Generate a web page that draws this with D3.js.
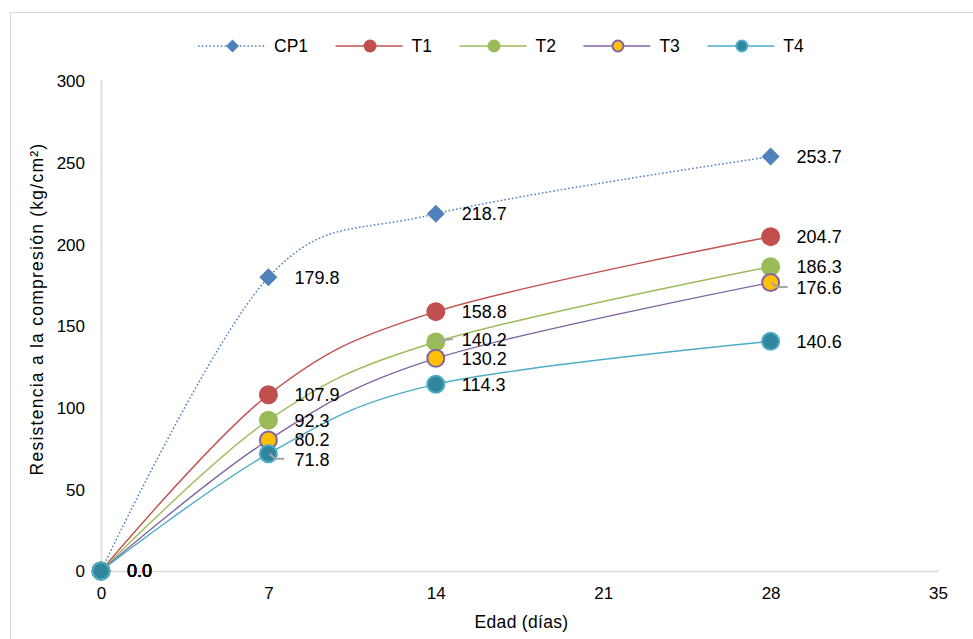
<!DOCTYPE html>
<html>
<head>
<meta charset="utf-8">
<script src="https://cdn.jsdelivr.net/npm/d3@7"></script>
<style>
  html, body { margin: 0; padding: 0; background: #fff; }
  svg { display: block; font-family: "Liberation Sans", Arial, sans-serif; }
</style>
</head>
<body>
<svg id="chart" width="973" height="639"></svg>
<script>
// Compressive strength vs. age
const days = [0, 7, 14, 28];
const seriesNames = ["CP1", "T1", "T2", "T3", "T4"];
const cp1 = [0, 179.8, 218.7, 253.7];
const t1 = [0, 107.9, 158.8, 204.7];
const t2 = [0, 92.3, 140.2, 186.3];
const t3 = [0, 80.2, 130.2, 176.6];
const t4 = [0, 71.8, 114.3, 140.6];
const xTicks = [0, 7, 14, 21, 28, 35];
const yTicks = [0, 50, 100, 150, 200, 250, 300];
const xTitle = "Edad (días)";
const yTitle = "Resistencia a la compresión (kg/cm²)";

const values = [cp1, t1, t2, t3, t4];

const styles = [
  { line: "#4f81bd", dash: "1.6,2.2", shape: "diamond", fill: "#4f81bd", stroke: "none", sw: 0 },
  { line: "#c0504d", dash: null, shape: "circle", fill: "#c0504d", stroke: "none", sw: 0 },
  { line: "#9bbb59", dash: null, shape: "circle", fill: "#9bbb59", stroke: "none", sw: 0 },
  { line: "#8064a2", dash: null, shape: "circle", fill: "#ffc000", stroke: "#8064a2", sw: 2 },
  { line: "#4bacc6", dash: null, shape: "circle", fill: "#31859c", stroke: "#4bacc6", sw: 2 }
];

// Hand-placed label nudges (series index, point index) -> [dy, leader points relative to marker]
const labelNudge = {
  "2-2": { dy: -2.5, leader: [[2, -1], [17, -3]] },
  "3-3": { dy: 5, leader: [[1, 0], [6, 4.5], [17, 4.5]] },
  "4-1": { dy: 6, leader: [[1, 0], [7, 5], [16, 5]] }
};

const svg = d3.select("#chart");
const margin = { left: 101, right: 35, top: 81, bottom: 68 };
const W = 973, H = 639;

const x = d3.scaleLinear().domain([0, 35]).range([margin.left, W - margin.right]);
const y = d3.scaleLinear().domain([0, 300]).range([H - margin.bottom, margin.top]);

// outer frame
svg.append("rect")
  .attr("x", 10.5).attr("y", 12.5)
  .attr("width", 1000).attr("height", 700)
  .attr("fill", "none").attr("stroke", "#d9d9d9").attr("stroke-width", 1);

// axes
const gx = svg.append("g").attr("transform", `translate(0,${y(0)})`)
  .call(d3.axisBottom(x).tickValues(xTicks).tickSize(0).tickPadding(16).tickFormat(d3.format("d")));
const gy = svg.append("g").attr("transform", `translate(${x(0)},0)`)
  .call(d3.axisLeft(y).tickValues(yTicks).tickSize(0).tickPadding(16).tickFormat(d3.format("d")));
[gx, gy].forEach(g => {
  g.select(".domain").attr("stroke", "#d9d9d9").attr("stroke-width", 1.6);
  g.selectAll("text").attr("font-size", 17).attr("fill", "#000")
    .attr("font-family", "'Liberation Sans', Arial, sans-serif");
});
gy.select(".domain").attr("d", `M0.5,${y(0)}V${y(300) - 1}`);
gy.selectAll("text").attr("dy", "0.34em");
gx.selectAll("text").attr("dy", "0.7em");

// axis titles
svg.append("text")
  .attr("x", (x(0) + x(35)) / 2 + 2).attr("y", 628)
  .attr("text-anchor", "middle").attr("font-size", 17.5)
  .attr("letter-spacing", 0.3).text(xTitle);
svg.append("text")
  .attr("transform", `translate(43,${309}) rotate(-90)`)
  .attr("text-anchor", "middle").attr("font-size", 17.5)
  .attr("letter-spacing", 1.25).text(yTitle);

// smoothed lines
const line = d3.line()
  .x((d, i) => x(days[i]))
  .y(d => y(d))
  .curve(d3.curveCardinal.tension(0));

values.forEach((vals, s) => {
  const st = styles[s];
  svg.append("path")
    .attr("d", line(vals))
    .attr("fill", "none")
    .attr("stroke", st.line)
    .attr("stroke-width", s === 0 ? 1.5 : 1.4)
    .attr("stroke-dasharray", st.dash);
});

function drawMarker(g, st, cx, cy, r) {
  if (st.shape === "diamond") {
    g.append("path")
      .attr("d", `M${cx},${cy - r}L${cx + r},${cy}L${cx},${cy + r}L${cx - r},${cy}Z`)
      .attr("fill", st.fill);
  } else {
    g.append("circle")
      .attr("cx", cx).attr("cy", cy).attr("r", st.sw ? r - st.sw / 2 : r)
      .attr("fill", st.fill)
      .attr("stroke", st.stroke === "none" ? null : st.stroke)
      .attr("stroke-width", st.sw || null);
  }
}

// markers
const markers = svg.append("g");
values.forEach((vals, s) => {
  vals.forEach((v, i) => {
    drawMarker(markers, styles[s], x(days[i]), y(v), styles[s].shape === "diamond" ? 9 : 9.5);
  });
});

// leader lines and data labels
const labels = svg.append("g");
values.forEach((vals, s) => {
  vals.forEach((v, i) => {
    const px = x(days[i]), py = y(v);
    const nudge = labelNudge[`${s}-${i}`];
    if (nudge) {
      labels.append("polyline")
        .attr("points", nudge.leader.map(p => `${px + p[0]},${py + p[1]}`).join(" "))
        .attr("fill", "none").attr("stroke", "#a6a6a6").attr("stroke-width", 2);
    }
    labels.append("text")
      .attr("x", px + 26)
      .attr("y", py + (nudge ? nudge.dy : 0))
      .attr("dy", "0.36em")
      .attr("font-size", 18)
      .attr("fill", "#000")
      .text(d3.format(".1f")(v));
  });
});

// legend
const legend = svg.append("g").attr("transform", "translate(198,46)");
let lx = 0;
seriesNames.forEach((name, s) => {
  const st = styles[s];
  const g = legend.append("g").attr("transform", `translate(${lx},0)`);
  g.append("line").attr("x1", 0).attr("x2", 67).attr("y1", 0).attr("y2", 0)
    .attr("stroke", st.line).attr("stroke-width", 1.4).attr("stroke-dasharray", st.dash);
  drawMarker(g, st, 34.5, 0, 6.5);
  const t = g.append("text").attr("x", 76).attr("y", 0).attr("dy", "0.36em")
    .attr("font-size", 17.5).text(name);
  lx += 76 + t.node().getComputedTextLength() + 27.5;
});
</script>
</body>
</html>
